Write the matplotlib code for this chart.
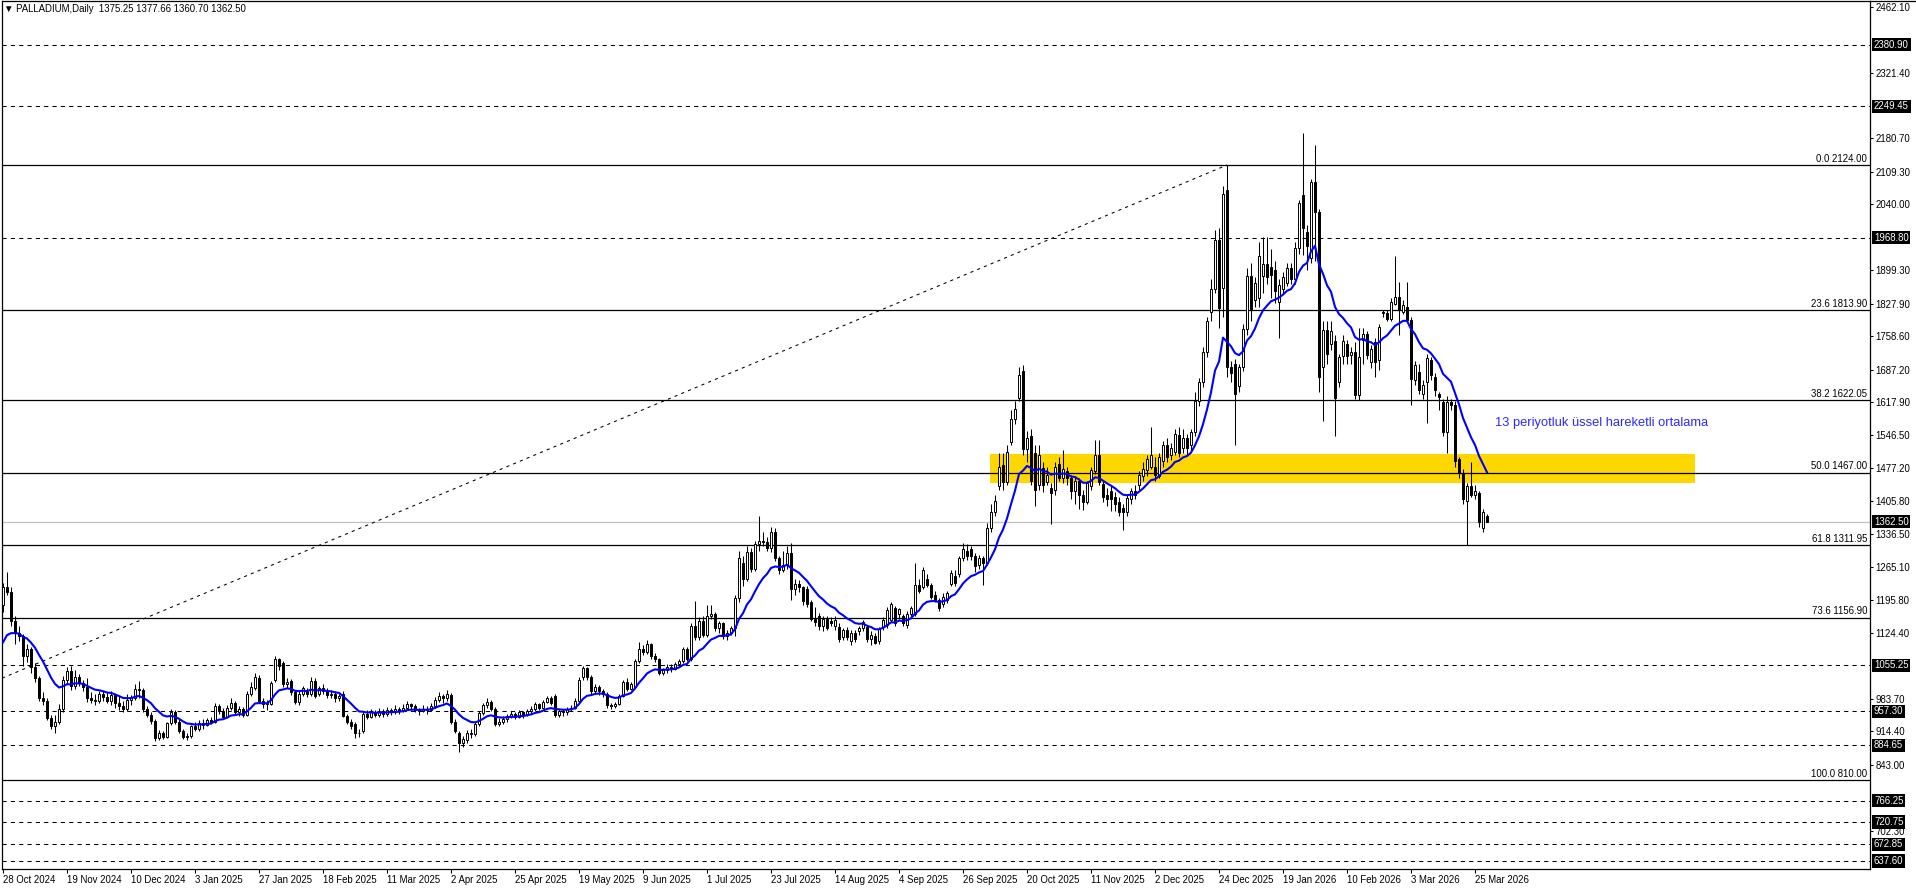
import numpy as np
import pandas as pd
import matplotlib
matplotlib.use("Agg")
import matplotlib.pyplot as plt
import matplotlib.transforms as mtransforms
from matplotlib.lines import Line2D
from matplotlib.patches import Rectangle

# === Chart data (PALLADIUM, Daily), one bar per trading day, oldest first ===
opens = [
    1185, 1222, 1212, 1150, 1124, 1118, 1075, 1090, 1052, 1028,
    986, 980, 944, 926, 934, 962, 1025, 1043, 1012, 1030,
    1017, 1010, 986, 982, 980, 995, 988, 980, 992, 975,
    968, 962, 982, 986, 1005, 1002, 962, 950, 936, 900,
    910, 903, 932, 955, 935, 915, 902, 905, 925, 920,
    932, 928, 938, 935, 968, 958, 945, 965, 975, 955,
    962, 950, 995, 1008, 1028, 980, 972, 972, 1025, 1068,
    1060, 1015, 1022, 998, 978, 995, 1000, 995, 1022, 995,
    1008, 1000, 992, 995, 985, 995, 948, 935, 930, 912,
    915, 952, 945, 955, 950, 958, 952, 960, 955, 962,
    958, 965, 972, 968, 960, 958, 963, 960, 968, 982,
    990, 985, 992, 935, 912, 890, 895, 912, 908, 930,
    953, 970, 978, 962, 930, 935, 940, 948, 952, 945,
    955, 950, 958, 962, 972, 965, 978, 985, 990, 950,
    958, 955, 962, 965, 980, 1030, 1050, 1030, 1000, 1010,
    1000, 995, 970, 968, 972, 990, 1020, 1005, 1010, 1065,
    1090, 1085, 1100, 1075, 1068, 1040, 1045, 1052, 1048, 1058,
    1065, 1090, 1070, 1140, 1115, 1150, 1120, 1160, 1165, 1135,
    1145, 1118, 1125, 1135, 1200, 1275, 1240, 1298, 1262, 1315,
    1322, 1318, 1305, 1340, 1285, 1260, 1270, 1296, 1218, 1230,
    1222, 1218, 1190, 1155, 1160, 1140, 1155, 1150, 1140, 1137,
    1116, 1130, 1108, 1124, 1128, 1135, 1137, 1112, 1118, 1108,
    1137, 1141, 1153, 1177, 1165, 1161, 1141, 1165, 1165, 1226,
    1222, 1239, 1226, 1206, 1194, 1186, 1194, 1229, 1247, 1251,
    1284, 1300, 1304, 1288, 1270, 1284, 1275, 1349, 1382, 1439,
    1484, 1447, 1533, 1582, 1627, 1684, 1517, 1545, 1510, 1440,
    1476, 1447, 1435, 1430, 1485, 1455, 1470, 1456, 1428, 1450,
    1420, 1405, 1439, 1470, 1505, 1443, 1420, 1428, 1415, 1405,
    1392, 1384, 1410, 1428, 1440, 1460, 1472, 1480, 1480, 1460,
    1492, 1525, 1505, 1511, 1548, 1520, 1540, 1525, 1553, 1620,
    1660, 1725, 1810, 1859, 1964, 1861, 2071, 1692, 1700, 1651,
    1692, 1774, 1888, 1835, 1840, 1888, 1913, 1907, 1900, 1831,
    1860, 1872, 1905, 1880, 1946, 2060, 1982, 1925, 2088, 2024,
    1692, 1772, 1741, 1749, 1660, 1717, 1741, 1718, 1725, 1633,
    1750, 1764, 1704, 1747, 1707, 1811, 1807, 1796, 1828, 1843,
    1811, 1821, 1793, 1665, 1683, 1636, 1661, 1707, 1672, 1636,
    1618, 1554, 1618, 1611, 1496, 1467, 1406, 1439, 1420, 1423,
    1349, 1375.25,
]
highs = [
    1232, 1255, 1222, 1160, 1140, 1122, 1100, 1094, 1060, 1032,
    998, 985, 950, 950, 972, 1032, 1052, 1054, 1045, 1038,
    1025, 1028, 998, 995, 1000, 1000, 998, 1000, 995, 990,
    980, 995, 992, 1015, 1022, 1006, 968, 956, 940, 918,
    915, 935, 962, 960, 942, 920, 912, 928, 935, 938,
    940, 942, 945, 975, 972, 965, 970, 985, 980, 968,
    966, 1000, 1020, 1040, 1035, 985, 982, 1022, 1076, 1072,
    1064, 1028, 1026, 1002, 1000, 1012, 1008, 1030, 1028, 1012,
    1015, 1006, 1002, 1000, 995, 1000, 952, 940, 934, 920,
    958, 960, 962, 960, 965, 962, 966, 964, 970, 966,
    972, 980, 976, 972, 965, 970, 968, 975, 988, 998,
    995, 1002, 996, 940, 916, 905, 918, 920, 935, 958,
    975, 985, 982, 966, 942, 948, 952, 958, 956, 960,
    958, 962, 968, 978, 976, 982, 990, 990, 995, 962,
    962, 966, 970, 985, 1030, 1055, 1052, 1035, 1015, 1014,
    1004, 998, 975, 978, 995, 1025, 1028, 1020, 1070, 1105,
    1098, 1110, 1104, 1082, 1072, 1050, 1058, 1058, 1062, 1070,
    1095, 1095, 1145, 1192, 1158, 1160, 1185, 1185, 1170, 1150,
    1148, 1130, 1140, 1205, 1300, 1290, 1310, 1305, 1320, 1374,
    1340, 1330, 1350, 1348, 1290, 1300, 1310, 1316, 1240, 1238,
    1225, 1225, 1195, 1180, 1168, 1160, 1160, 1158, 1160, 1145,
    1135, 1138, 1130, 1130, 1140, 1152, 1142, 1128, 1125, 1138,
    1158, 1180, 1190, 1182, 1178, 1165, 1172, 1182, 1275, 1240,
    1265, 1250, 1232, 1215, 1200, 1210, 1215, 1260, 1260, 1290,
    1316, 1315, 1310, 1295, 1292, 1290, 1360, 1400, 1420, 1508,
    1510, 1525, 1600, 1620, 1692, 1697, 1556, 1560, 1525, 1525,
    1490, 1480, 1445, 1490, 1500, 1515, 1480, 1462, 1460, 1455,
    1430, 1450, 1480, 1537, 1537, 1450, 1435, 1440, 1425, 1415,
    1400, 1420, 1435, 1440, 1470, 1490, 1505, 1565, 1500, 1510,
    1535, 1540, 1530, 1560, 1565, 1560, 1550, 1560, 1640, 1670,
    1735, 1800, 1880, 1985, 1990, 2080, 2124, 1705, 1710, 1700,
    1785, 1905, 1915, 1885, 1960, 1970, 1970, 1945, 1920, 1880,
    1895, 1915, 1915, 1960, 2050, 2192, 1995, 2095, 2167, 2030,
    1790, 1790, 1790, 1760, 1720, 1760, 1750, 1735, 1747, 1775,
    1775, 1770, 1740, 1755, 1785, 1815, 1815, 1840, 1930, 1875,
    1835, 1875, 1800, 1705, 1700, 1665, 1720, 1715, 1680, 1640,
    1625, 1630, 1625, 1620, 1500, 1475, 1445, 1490, 1440, 1428,
    1390, 1377.66,
]
lows = [
    1170, 1205, 1140, 1100, 1108, 1055, 1062, 1040, 1020, 980,
    970, 938, 920, 912, 930, 955, 1015, 1003, 1005, 1012,
    1000, 978, 975, 970, 975, 980, 975, 970, 965, 960,
    955, 958, 970, 982, 985, 955, 945, 930, 893, 895,
    898, 900, 928, 930, 912, 898, 895, 900, 915, 915,
    920, 925, 930, 932, 952, 940, 942, 960, 950, 948,
    945, 948, 990, 1002, 975, 965, 960, 970, 1020, 1045,
    1010, 1008, 992, 972, 970, 990, 988, 990, 985, 990,
    995, 985, 985, 978, 980, 945, 930, 920, 901, 902,
    912, 940, 942, 945, 946, 945, 948, 950, 952, 952,
    955, 962, 960, 955, 950, 955, 952, 958, 965, 978,
    975, 980, 930, 910, 870, 880, 890, 900, 905, 926,
    950, 965, 958, 926, 925, 930, 935, 942, 940, 942,
    944, 948, 954, 958, 960, 962, 975, 970, 945, 945,
    948, 950, 958, 962, 978, 1025, 1025, 995, 995, 992,
    988, 965, 962, 965, 970, 988, 1000, 1002, 1008, 1060,
    1078, 1080, 1070, 1062, 1035, 1035, 1040, 1042, 1045, 1052,
    1060, 1065, 1065, 1110, 1110, 1115, 1115, 1155, 1128, 1125,
    1112, 1110, 1120, 1118, 1190, 1225, 1235, 1255, 1258, 1300,
    1310, 1300, 1298, 1278, 1250, 1255, 1262, 1194, 1205, 1212,
    1185, 1180, 1150, 1140, 1132, 1128, 1130, 1140, 1130, 1105,
    1110, 1110, 1098, 1105, 1120, 1128, 1105, 1098, 1100, 1100,
    1130, 1135, 1148, 1140, 1155, 1140, 1135, 1158, 1160, 1210,
    1218, 1222, 1198, 1190, 1172, 1180, 1188, 1225, 1225, 1245,
    1278, 1280, 1280, 1255, 1262, 1226, 1270, 1340, 1375, 1430,
    1430, 1440, 1525, 1570, 1620, 1505, 1490, 1440, 1395, 1430,
    1425, 1440, 1357, 1420, 1450, 1445, 1440, 1410, 1400, 1390,
    1388, 1400, 1430, 1465, 1440, 1405, 1395, 1385, 1385, 1375,
    1345, 1375, 1400, 1410, 1430, 1450, 1460, 1475, 1450, 1455,
    1480, 1490, 1495, 1505, 1500, 1510, 1505, 1515, 1545, 1610,
    1650, 1715, 1790, 1850, 1775, 1800, 1671, 1660, 1525, 1640,
    1685, 1760, 1790, 1820, 1820, 1850, 1870, 1840, 1830, 1755,
    1850, 1865, 1870, 1870, 1935, 1932, 1900, 1915, 1918, 1640,
    1578, 1700, 1730, 1545, 1650, 1700, 1700, 1700, 1625, 1622,
    1700, 1710, 1690, 1672, 1686, 1800, 1790, 1790, 1825, 1761,
    1805, 1790, 1611, 1655, 1635, 1625, 1572, 1665, 1630, 1600,
    1545, 1508, 1600, 1480, 1455, 1400, 1312, 1415, 1410, 1350,
    1340, 1360.70,
]
closes = [
    1222, 1212, 1150, 1124, 1118, 1075, 1090, 1052, 1028, 986,
    980, 944, 926, 934, 962, 1025, 1043, 1012, 1030, 1017,
    1010, 986, 982, 980, 995, 988, 980, 992, 975, 968,
    962, 982, 986, 1005, 1002, 962, 950, 936, 900, 910,
    903, 932, 955, 935, 915, 902, 905, 925, 920, 932,
    928, 938, 935, 968, 958, 945, 965, 975, 955, 962,
    950, 995, 1010, 1030, 980, 972, 975, 1018, 1068, 1055,
    1015, 1020, 998, 978, 995, 1008, 995, 1022, 990, 1008,
    1000, 992, 995, 985, 990, 948, 935, 925, 912, 910,
    952, 945, 955, 950, 958, 952, 960, 955, 962, 958,
    965, 972, 968, 960, 958, 963, 960, 968, 982, 990,
    985, 995, 935, 915, 890, 898, 912, 908, 930, 953,
    970, 978, 962, 930, 935, 940, 948, 952, 945, 955,
    950, 958, 962, 972, 965, 978, 985, 975, 950, 958,
    955, 962, 965, 980, 1025, 1050, 1030, 1000, 1010, 1000,
    995, 970, 968, 972, 990, 1020, 1005, 1015, 1065, 1090,
    1085, 1100, 1075, 1068, 1040, 1045, 1052, 1048, 1058, 1065,
    1090, 1070, 1140, 1115, 1150, 1120, 1160, 1165, 1135, 1145,
    1118, 1125, 1135, 1200, 1285, 1240, 1298, 1262, 1315, 1322,
    1318, 1305, 1340, 1285, 1260, 1270, 1296, 1218, 1230, 1222,
    1192, 1186, 1155, 1148, 1140, 1155, 1135, 1146, 1152, 1112,
    1130, 1115, 1125, 1112, 1135, 1148, 1112, 1120, 1104, 1133,
    1153, 1173, 1186, 1145, 1175, 1145, 1165, 1177, 1226, 1214,
    1259, 1227, 1202, 1194, 1177, 1202, 1210, 1253, 1231, 1284,
    1304, 1290, 1288, 1267, 1284, 1275, 1349, 1382, 1406, 1480,
    1447, 1512, 1582, 1602, 1676, 1517, 1541, 1450, 1431, 1505,
    1440, 1463, 1423, 1480, 1455, 1475, 1456, 1428, 1450, 1420,
    1405, 1444, 1472, 1505, 1447, 1415, 1410, 1410, 1400, 1382,
    1382, 1412, 1428, 1420, 1463, 1475, 1496, 1504, 1463, 1500,
    1525, 1500, 1520, 1549, 1510, 1540, 1520, 1553, 1620, 1660,
    1725, 1790, 1859, 1964, 1819, 2062, 1693, 1680, 1635, 1692,
    1774, 1888, 1815, 1872, 1930, 1913, 1884, 1890, 1856, 1868,
    1885, 1905, 1880, 1946, 2042, 1989, 1950, 2088, 2024, 1672,
    1772, 1720, 1770, 1627, 1713, 1749, 1717, 1725, 1633, 1715,
    1764, 1718, 1732, 1704, 1779, 1807, 1796, 1832, 1843, 1814,
    1825, 1793, 1668, 1697, 1643, 1654, 1711, 1675, 1643, 1629,
    1554, 1618, 1611, 1492, 1467, 1410, 1439, 1420, 1428, 1361,
    1382, 1362.50,
]

# EMA value carried in from the bars before the visible window
ema_seed = 1085
ema_period = 13

# date labels, one every 16 bars
date_labels = [
    "28 Oct 2024", "19 Nov 2024", "10 Dec 2024", "3 Jan 2025", "27 Jan 2025",
    "18 Feb 2025", "11 Mar 2025", "2 Apr 2025", "25 Apr 2025", "19 May 2025",
    "9 Jun 2025", "1 Jul 2025", "23 Jul 2025", "14 Aug 2025", "4 Sep 2025",
    "26 Sep 2025", "20 Oct 2025", "11 Nov 2025", "2 Dec 2025", "24 Dec 2025",
    "19 Jan 2026", "10 Feb 2026", "3 Mar 2026", "25 Mar 2026",
]
label_every = 16

# price scale labels on the right
price_ticks = [2462.10, 2321.40, 2180.70, 2109.30, 2040.00, 1899.30,
               1827.90, 1758.60, 1687.20, 1617.90, 1546.50, 1477.20, 1405.80,
               1336.50, 1265.10, 1195.80, 1124.40, 983.70, 914.40, 843.00,
               702.30]

# horizontal dashed levels (shown with black price tags)
dashed_levels = [2380.90, 2249.45, 1968.80, 1055.25, 957.30, 884.65,
                 766.25, 720.75, 672.85, 637.60]

# Fibonacci retracement levels
fib_ratios = ["0.0", "23.6", "38.2", "50.0", "61.8", "73.6", "100.0"]
fib_prices = [2124.00, 1813.90, 1622.05, 1467.00, 1311.95, 1156.90, 810.00]

# Fibonacci trend line: price at the left edge -> swing high bar/price
trend_left_price = 1028
trend_high_bar = 306
trend_high_price = 2124.00

# yellow zone (bars, prices)
zone_bars = (246.75, 423)
zone_prices = (1445, 1506)

last_price = 1362.50
header = "\u25bc PALLADIUM,Daily  1375.25 1377.66 1360.70 1362.50"
ema_note = "13 periyotluk \u00fcssel hareketli ortalama"
ema_note_pos = (373, 1572)

FONT = ["Liberation Sans", "DejaVu Sans"]
FS = 6.9


def draw_candles(ax, o, h, l, c):
    x = np.arange(len(o))
    ax.vlines(x, l, h, color="black", linewidth=0.75, zorder=3)
    up = c >= o
    bottoms = np.minimum(o, c)
    heights = np.abs(c - o)
    ax.bar(x[up], heights[up], bottom=bottoms[up], width=0.55,
           color="white", edgecolor="black", linewidth=0.7, zorder=4)
    ax.bar(x[~up], heights[~up], bottom=bottoms[~up], width=0.55,
           color="black", edgecolor="black", linewidth=0.7, zorder=4)


def price_tag(ax, price, text_color="white", box_color="black"):
    trans = mtransforms.blended_transform_factory(ax.transAxes, ax.transData)
    trans = trans + mtransforms.ScaledTranslation(4 / 100, 0, ax.figure.dpi_scale_trans)
    ax.text(1.0, price, f"{price:.2f}", transform=trans, ha="left", va="center",
            fontsize=FS, family=FONT, color=text_color, zorder=10, clip_on=False,
            bbox=dict(boxstyle="square,pad=0.18", fc=box_color, ec="none"))


def main():
    o = np.array(opens, dtype=float)
    h = np.array(highs, dtype=float)
    l = np.array(lows, dtype=float)
    c = np.array(closes, dtype=float)
    assert len(o) == len(h) == len(l) == len(c)
    n = len(c)

    # === EMA(13) on closes ===
    ema = pd.Series([ema_seed] + list(c)).ewm(span=ema_period, adjust=False).mean().values[1:]

    fig = plt.figure(figsize=(19.16, 8.88), dpi=100, facecolor="white")
    ax = fig.add_axes([2 / 1916, 19 / 888, 1868 / 1916, 868 / 888])
    ax.set_facecolor("white")

    ax.set_xlim(-0.25, 466.75)
    ax.set_ylim(620.5, 2474.3)

    # === Background zone ===
    ax.add_patch(Rectangle((zone_bars[0], zone_prices[0]), zone_bars[1] - zone_bars[0],
                           zone_prices[1] - zone_prices[0], facecolor="#FFD700",
                           edgecolor="none", zorder=0.5))

    # === Horizontal levels ===
    for p in dashed_levels:
        ax.axhline(p, color="black", linewidth=0.75, linestyle=(0, (4, 4)), zorder=1)
    for p in fib_prices:
        ax.axhline(p, color="black", linewidth=0.9, zorder=1)
    ax.axhline(last_price, color="#C0C0C0", linewidth=0.9, zorder=1)

    # fib labels, right aligned just above each line
    lab_trans = mtransforms.blended_transform_factory(ax.transAxes, ax.transData)
    lab_trans = lab_trans + mtransforms.ScaledTranslation(-3 / 100, 1.5 / 100, fig.dpi_scale_trans)
    for r, p in zip(fib_ratios, fib_prices):
        ax.text(1.0, p, f"{r} {p:.2f}", transform=lab_trans, ha="right", va="bottom",
                fontsize=FS, family=FONT, color="black", zorder=6)

    # === Fibonacci trend line ===
    ax.plot([-0.25, trend_high_bar], [trend_left_price, trend_high_price], color="black",
            linewidth=0.75, linestyle=(0, (3, 4)), zorder=1.5)

    # === Candles and EMA ===
    draw_candles(ax, o, h, l, c)
    ax.plot(np.arange(n), ema, color="#0000FF", linewidth=1.5, zorder=5)

    ax.text(ema_note_pos[0], ema_note_pos[1], ema_note, color="#2B2BFF",
            fontsize=9.3, family=FONT, ha="left", va="center", zorder=6)

    # === Axes styling ===
    for s in ax.spines.values():
        s.set_color("black")
        s.set_linewidth(0.9)

    ax.yaxis.tick_right()
    ax.set_yticks(price_ticks)
    ax.set_yticklabels([f"{p:.2f}" for p in price_ticks])
    ax.tick_params(axis="y", direction="out", length=2.5, width=0.75, pad=1.5,
                   labelsize=FS, colors="black")

    ax.set_xticks(np.arange(0, n, label_every)[:len(date_labels)])
    ax.set_xticklabels(date_labels)
    ax.tick_params(axis="x", direction="out", length=3, width=0.75, pad=1,
                   labelsize=FS, colors="black")
    for lbl in ax.get_xticklabels() + ax.get_yticklabels():
        lbl.set_family(FONT)
    for lbl in ax.get_xticklabels():
        lbl.set_ha("left")

    for p in dashed_levels:
        price_tag(ax, p)
    price_tag(ax, last_price)

    # frame line continuing over the price scale
    fig.add_artist(Line2D([1870 / 1916, 1.0], [887 / 888, 887 / 888],
                          color="black", linewidth=0.9))

    fig.text(4 / 1916, 1 - 9 / 888, header, fontsize=FS, family=FONT,
             ha="left", va="center", color="black")

    fig.savefig("out.png", dpi=100, facecolor="white")
    plt.close(fig)


if __name__ == "__main__":
    main()
